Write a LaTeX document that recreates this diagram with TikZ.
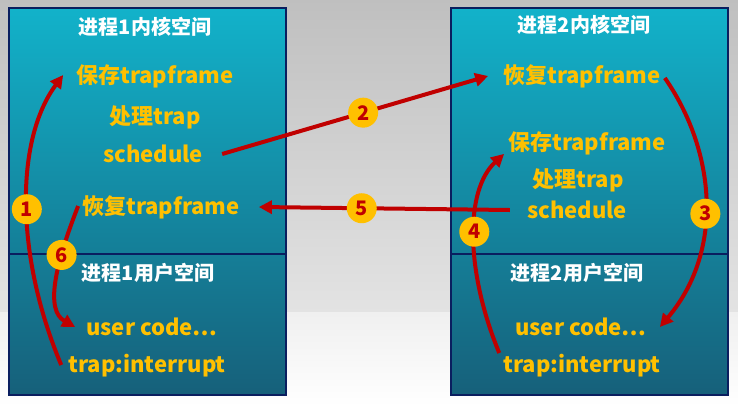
\documentclass[tikz,border=0pt]{standalone}
\usepackage{fontspec}
\setmainfont{Noto Sans CJK SC}
\usetikzlibrary{positioning,arrows.meta}
\definecolor{panelTop}{RGB}{18,178,202}
\definecolor{panelBot}{RGB}{22,96,122}
\definecolor{panelLine}{RGB}{10,30,95}
\definecolor{txtGold}{RGB}{255,192,0}
\definecolor{arrowRed}{RGB}{192,0,0}

\begin{document}
\begin{tikzpicture}[
    x=1pt, y=-1pt,
    panel/.style={
        top color=panelTop, bottom color=panelBot,
        draw=panelLine, line width=2.5pt
    },
    hdr/.style={
        text=white, inner sep=1pt,
        font=\fontsize{20}{24}\selectfont\bfseries
    },
    txt/.style={
        text=txtGold, inner sep=1pt,
        font=\fontsize{22}{26}\selectfont\bfseries
    },
    num/.style={
        circle, fill=txtGold, minimum size=30pt, inner sep=0pt,
        text=arrowRed, font=\fontsize{20}{20}\selectfont\bfseries
    },
    arrow/.style={-{Triangle[length=13pt,width=13pt]}, line width=4pt, arrowRed}
]
\useasboundingbox (0,0) rectangle (738,407);

% Background
\shade[top color=black!25, bottom color=black!11] (0,0) rectangle (738,312);
\shade[top color=black!6, bottom color=white] (0,312) rectangle (738,407);

% Process panels
\path[panel] (9,8) rectangle (286,395);
\draw[panelLine, line width=2.5pt] (9,254) -- (286,254);
\path[panel] (451,8) rectangle (728,395);
\draw[panelLine, line width=2.5pt] (451,254) -- (728,254);

% Process 1
\node[hdr] (kern1) at (145,27) {进程1内核空间};
\node[txt] (save1) at (155,76) {保存trapframe};
\node[txt] (proc1) at (155,117) {处理trap};
\node[txt] (sched1) at (153,154) {schedule};
\node[txt] (rest1) at (161,207) {恢复trapframe};
\node[hdr] (usr1) at (148,273) {进程1用户空间};
\node[txt] (code1) at (152,327) {user code…};
\node[txt] (trap1) at (147,366) {trap:interrupt};

% Process 2
\node[hdr] (kern2) at (584,25) {进程2内核空间};
\node[txt] (rest2) at (582,76) {恢复trapframe};
\node[txt] (save2) at (587,143) {保存trapframe};
\node[txt] (proc2) at (578,180) {处理trap};
\node[txt] (sched2) at (577,210) {schedule};
\node[hdr] (usr2) at (577,273) {进程2用户空间};
\node[txt] (code2) at (581,327) {user code…};
\node[txt] (trap2) at (582,366) {trap:interrupt};

% Switch steps
\draw[arrow] ([xshift=-6pt,yshift=1pt]trap1.west)
    .. controls (15,255) and (15,140) .. node[num, pos=.48] (c1) {1}
    ([xshift=-12pt,yshift=1pt]save1.west);
\draw[arrow] ([xshift=18pt]sched1.east) -- node[num, pos=.53] (c2) {2}
    ([xshift=-14pt]rest2.west);
\draw[arrow] ([xshift=3pt,yshift=-2pt]rest2.east)
    .. controls (715,150) and (725,250) .. node[num, pos=.55] (c3) {3}
    ([xshift=12pt]code2.east);
\draw[arrow] ([xshift=-3pt,yshift=13pt]trap2.west)
    .. controls (465,270) and (465,190) .. node[num, pos=.52] (c4) {4}
    ([xshift=-3pt,yshift=2pt]save2.south west);
\draw[arrow] ([xshift=-16pt]sched2.west) -- node[num, pos=.59] (c5) {5}
    ([xshift=18pt]rest1.east);
\draw[arrow] ([xshift=-3pt,yshift=1pt]rest1.west)
    .. controls (55,265) and (45,310) .. node[num, pos=.3] (c6) {6}
    ([xshift=-10pt]code1.west);

\end{tikzpicture}
\end{document}
